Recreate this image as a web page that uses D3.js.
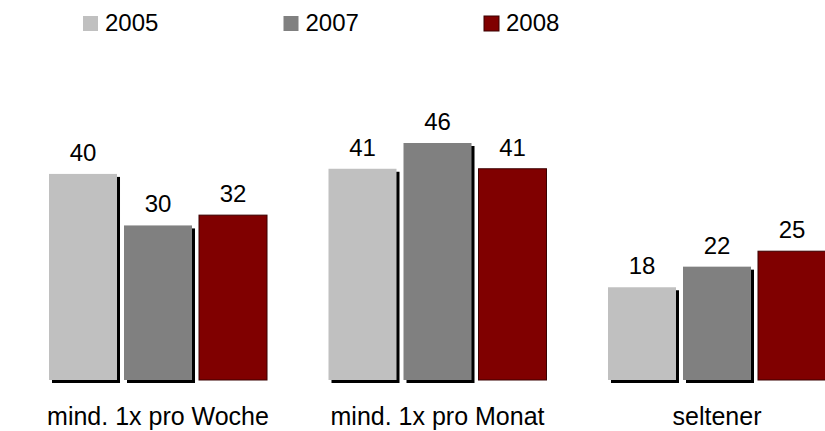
<!DOCTYPE html>
<meta charset="utf-8">
<style>
body { margin:0; background:#fff; }
text { font-family: "Liberation Sans", Arial, sans-serif; fill:#000; }
</style>
<body>
<svg width="825" height="431" id="vis"></svg>
</body>
<script src="https://d3js.org/d3.v7.min.js"></script>
<script>
var categories = ["mind. 1x pro Woche", "mind. 1x pro Monat", "seltener"];
var series = ["2005", "2007", "2008"];
var values2005 = [40, 41, 18];
var values2007 = [30, 46, 22];
var values2008 = [32, 41, 25];

var colours = {"2005": "#c0c0c0", "2007": "#808080", "2008": "#800000"};
var allValues = {"2005": values2005, "2007": values2007, "2008": values2008};

var svg = d3.select("svg");
var baseline = 380;

var x0 = d3.scaleBand().domain(categories).range([49, 826]).paddingInner(0.22).paddingOuter(0);
var x1 = d3.scaleBand().domain(series).range([0, x0.bandwidth()]).paddingInner(0.0933).paddingOuter(0);
var y = d3.scaleLinear().domain([0, 46]).range([baseline, baseline - 237]);

var data = [];
categories.forEach(function(c, i) {
  series.forEach(function(s) {
    data.push({cat: c, ser: s, val: allValues[s][i]});
  });
});

var g = svg.append("g");

// shadows for the grey bars
g.selectAll(".shadow").data(data.filter(function(d){ return d.ser != "2008"; }))
  .enter().append("rect")
  .attr("class", "shadow")
  .attr("x", function(d){ return x0(d.cat) + x1(d.ser) + 3; })
  .attr("y", function(d){ return y(d.val) + 3; })
  .attr("width", x1.bandwidth())
  .attr("height", function(d){ return baseline - y(d.val); })
  .attr("fill", "#000");

g.selectAll(".bar").data(data)
  .enter().append("rect")
  .attr("class", "bar")
  .attr("x", function(d){ return x0(d.cat) + x1(d.ser); })
  .attr("y", function(d){ return y(d.val); })
  .attr("width", x1.bandwidth())
  .attr("height", function(d){ return baseline - y(d.val); })
  .attr("fill", function(d){ return colours[d.ser]; })
  .attr("stroke", function(d){ return d.ser == "2008" ? "#3a0000" : "none"; })
  .attr("stroke-width", 1);

g.selectAll(".val").data(data)
  .enter().append("text")
  .attr("class", "val")
  .attr("x", function(d){ return x0(d.cat) + x1(d.ser) + x1.bandwidth() / 2; })
  .attr("y", function(d){ return y(d.val) - 13; })
  .attr("text-anchor", "middle")
  .style("font-size", "24px")
  .text(function(d){ return d.val; });

svg.selectAll(".cat").data(categories)
  .enter().append("text")
  .attr("class", "cat")
  .attr("x", function(d){ return x0(d) + x0.bandwidth() / 2; })
  .attr("y", 425)
  .attr("text-anchor", "middle")
  .style("font-size", "25px")
  .text(function(d){ return d; });

// legend
var legend = svg.selectAll(".legend").data(series)
  .enter().append("g")
  .attr("class", "legend")
  .attr("transform", function(d, i){ return "translate(" + (83 + i * 200.5) + ",0)"; });

legend.append("rect")
  .attr("x", 0).attr("y", 16)
  .attr("width", 15).attr("height", 15)
  .attr("fill", function(d){ return colours[d]; })
  .attr("stroke", function(d){ return d == "2008" ? "#3a0000" : "none"; });

legend.append("text")
  .attr("x", 22).attr("y", 31)
  .style("font-size", "24px")
  .text(function(d){ return d; });
</script>
